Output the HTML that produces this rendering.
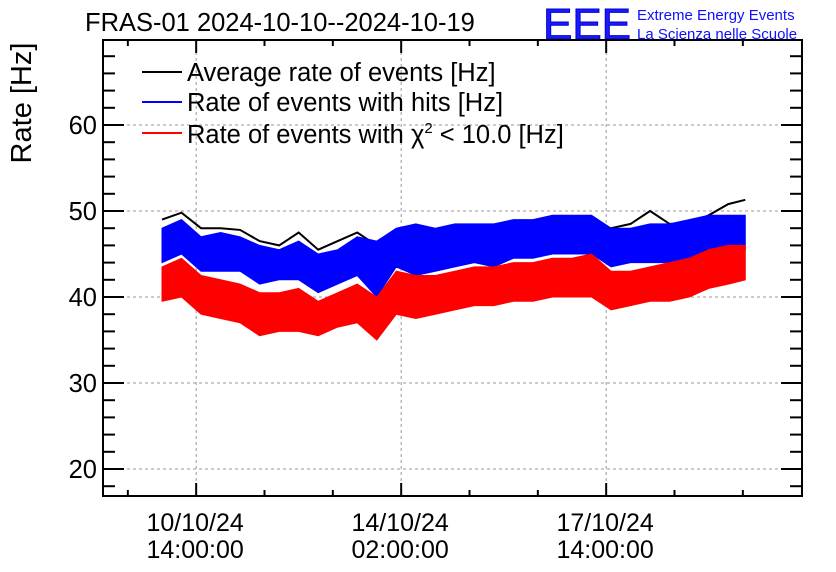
<!DOCTYPE html>
<html><head><meta charset="utf-8"><style>
body{margin:0;background:#fff;}
svg{display:block;font-family:"Liberation Sans",sans-serif;}
</style></head><body>
<svg id="chart" width="836" height="572" viewBox="0 0 836 572" xmlns="http://www.w3.org/2000/svg">
<text x="85" y="31" font-size="25.5">FRAS-01 2024-10-10--2024-10-19</text>
<g>
<text x="543" y="39" font-size="44" fill="#1a1aff" stroke="#0000cc" stroke-width="1" textLength="88" lengthAdjust="spacingAndGlyphs">EEE</text>
<text x="637" y="20" font-size="15" fill="#1010ff">Extreme Energy Events</text>
<text x="637" y="39" font-size="15" fill="#1010ff">La Scienza nelle Scuole</text>
</g>
<text transform="translate(31,103) rotate(-90)" font-size="29" text-anchor="middle">Rate [Hz]</text>
<g id="grid"></g><g id="series"></g><g id="axes"></g>
<g font-size="25.5">
<g><line x1="142" y1="72" x2="182" y2="72" stroke="#000" stroke-width="2"/><text x="187" y="81">Average rate of events [Hz]</text></g>
<g><line x1="142" y1="102" x2="182" y2="102" stroke="#0000ff" stroke-width="2"/><text x="187" y="111">Rate of events with hits [Hz]</text></g>
<g><line x1="142" y1="133" x2="182" y2="133" stroke="#ff0000" stroke-width="2"/><text x="187" y="143">Rate of events with χ<tspan font-size="15" dy="-10">2</tspan><tspan dy="10"> &lt; 10.0 [Hz]</tspan></text></g>
</g>
</svg>
<script>
const hours=[0,8,16,24,32,40,48,56,64,72,80,88,96,104,112,120,128,136,144,152,160,168,176,184,192,200,208,216,224,232,239];
const avgRate=[49,49.8,48,48,47.8,46.5,46,47.5,45.5,46.5,47.5,46,47,47.5,47,47.5,47.8,47.5,48,48.5,48.5,48.5,48.5,48,48.5,50,48.5,48.5,49.5,50.8,51.3];
const hitsHigh=[48,49,47,47.5,47,46,45.5,46.5,45,45.5,47,46.5,48,48.5,48,48.5,48.5,48.5,49,49,49.5,49.5,49.5,48,48,48.5,48.5,49,49.5,49.5,49.5];
const hitsLow=[44,45,43,43,43,41.5,42,42,40.5,41.5,42.5,40,43.5,42.5,43,43.5,44,43.5,44.5,44.5,45,45,45,43.5,44,44,44,44.5,45.5,45.5,45.5];
const chiHigh=[43.5,44.5,42.5,42,41.5,40.5,40.5,41,39.5,40.5,41.5,40,43,42.5,42.5,43,43.5,43.5,44,44,44.5,44.5,45,43,43,43.5,44,44.5,45.5,46,46];
const chiLow=[39.5,40,38,37.5,37,35.5,36,36,35.5,36.5,37,35,38,37.5,38,38.5,39,39,39.5,39.5,40,40,40,38.5,39,39.5,39.5,40,41,41.5,42];
const yTicks=[20,30,40,50,60];
const xTickHours=[14,98,182];
const xTickLabels=[["10/10/24","14:00:00"],["14/10/24","02:00:00"],["17/10/24","14:00:00"]];

const L=103,R=802,T=40,B=496;
const X=h=>162+h*2.4405;
const Y=v=>211-(v-50)*8.6;
const NS="http://www.w3.org/2000/svg";
function mk(tag,attrs,parent){const e=document.createElementNS(NS,tag);for(const k in attrs)e.setAttribute(k,attrs[k]);parent.appendChild(e);return e;}
const grid=document.getElementById('grid'),series=document.getElementById('series'),axes=document.getElementById('axes');
yTicks.forEach(v=>{const g=mk('line',{x1:L,x2:R,y1:Y(v),y2:Y(v),stroke:'#999','stroke-dasharray':'3,3'},grid);

});
xTickHours.forEach(h=>{const g=mk('line',{x1:X(h),x2:X(h),y1:T,y2:B,stroke:'#999','stroke-dasharray':'3,3'},grid);

});
function band(hi,lo,color,name){
 let pts=hours.map((h,i)=>X(h)+','+Y(hi[i]));
 for(let i=hours.length-1;i>=0;i--)pts.push(X(hours[i])+','+Y(lo[i]));
 const p=mk('polygon',{points:pts.join(' '),fill:color,stroke:color,'stroke-width':1},series);
 
 
}
const avg=mk('polyline',{points:hours.map((h,i)=>X(h)+','+Y(avgRate[i])).join(' '),fill:'none',stroke:'#000','stroke-width':2},series);


band(hitsHigh,hitsLow,'#0000ff','hits-rate-band');
band(chiHigh,chiLow,'#ff0000','chi2-rate-band');
const frame=mk('rect',{x:L,y:T,width:R-L,height:B-T,fill:'none',stroke:'#000','stroke-width':2},axes);


for(let v=18;v<=68;v+=2){const maj=v%10===0;const len=maj?21:12;
 mk('line',{x1:L,x2:L+len,y1:Y(v),y2:Y(v),stroke:'#000','stroke-width':2},axes);
 mk('line',{x1:R,x2:R-len,y1:Y(v),y2:Y(v),stroke:'#000','stroke-width':2},axes);}
yTicks.forEach(v=>{const t=mk('text',{x:L-6,y:Y(v)+9,'font-size':25.5,'text-anchor':'end'},axes);t.textContent=v;

});
for(let h=-14;h<=262;h+=28){const maj=xTickHours.includes(h);const len=maj?13:6;
 mk('line',{x1:X(h),x2:X(h),y1:B,y2:B-len,stroke:'#000','stroke-width':2},axes);
 mk('line',{x1:X(h),x2:X(h),y1:T,y2:T+len,stroke:'#000','stroke-width':2},axes);}
xTickHours.forEach((h,i)=>{[0,1].forEach(j=>{const t=mk('text',{x:X(h)-1,y:531+j*27,'font-size':25,'text-anchor':'middle'},axes);t.textContent=xTickLabels[i][j];

});});
</script>
</body></html>
